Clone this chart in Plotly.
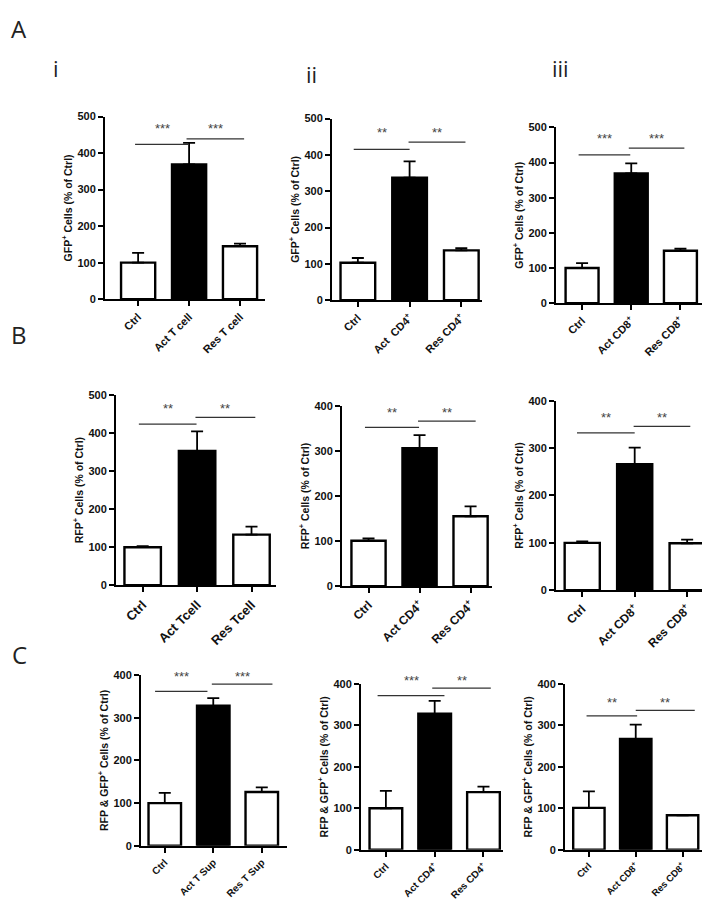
import plotly.graph_objects as go

# ---------------- data ----------------
labels_Ai = ["Ctrl", "Act T cell", "Res T cell"]
labels_Aii = ["Ctrl", "Act  CD4<sup>+</sup>", "Res CD4<sup>+</sup>"]
labels_Aiii = ["Ctrl", "Act CD8<sup>+</sup>", "Res CD8<sup>+</sup>"]
labels_Bi = ["Ctrl", "Act Tcell", "Res Tcell"]
labels_Bii = ["Ctrl", "Act CD4<sup>+</sup>", "Res CD4<sup>+</sup>"]
labels_Biii = ["Ctrl", "Act CD8<sup>+</sup>", "Res CD8<sup>+</sup>"]
labels_Ci = ["Ctrl", "Act T Sup", "Res T Sup"]
labels_Cii = ["Ctrl", "Act CD4<sup>+</sup>", "Res CD4<sup>+</sup>"]
labels_Ciii = ["Ctrl", "Act CD8<sup>+</sup>", "Res CD8<sup>+</sup>"]

mean_Ai = [100, 369, 145]
err_Ai = [27, 59, 7]
mean_Aii = [103, 337, 137]
err_Aii = [13, 45, 6]
mean_Aiii = [100, 369, 149]
err_Aiii = [14, 29, 6]
mean_Bi = [100, 353, 133]
err_Bi = [3, 51, 21]
mean_Bii = [101, 306, 155]
err_Bii = [5, 29, 22]
mean_Biii = [100, 266, 99]
err_Biii = [3, 35, 8]
mean_Ci = [100, 328, 126]
err_Ci = [24, 18, 11]
mean_Cii = [100, 328, 139]
err_Cii = [42, 31, 13]
mean_Ciii = [101, 267, 83]
err_Ciii = [40, 35, 0]

# significance: [left bracket level, right bracket level, star level]
sig_Ai = [424, 439, 467]
sig_Aii = [415, 435, 461]
sig_Aiii = [422, 441, 469]
sig_Bi = [423, 441, 463]
sig_Bii = [352, 366, 384]
sig_Biii = [332, 346, 364]
sig_Ci = [362, 379, 397]
sig_Cii = [372, 390, 408]
sig_Ciii = [323, 336, 355]
stars_Ai = ["***", "***"]
stars_Aii = ["**", "**"]
stars_Aiii = ["***", "***"]
stars_Bi = ["**", "**"]
stars_Bii = ["**", "**"]
stars_Biii = ["**", "**"]
stars_Ci = ["***", "***"]
stars_Cii = ["***", "**"]
stars_Ciii = ["**", "**"]

ytitle_A = "GFP<sup>+</sup> Cells (% of Ctrl)"
ytitle_B = "RFP<sup>+</sup> Cells (% of Ctrl)"
ytitle_C = "RFP & GFP<sup>+</sup> Cells (% of Ctrl)"
ymax_A = [500, 500, 500]
ymax_B = [500, 400, 400]
ymax_C = [400, 400, 400]

# ---------------- layout geometry (pixels) ----------------
W, H = 710, 900
panels = [
    # labels, mean, err, sig, stars, ytitle, ymax, px box (x0,x1,ytop,ybot), xrange, bracket spans, xtick size
    (labels_Ai, mean_Ai, err_Ai, sig_Ai, stars_Ai, ytitle_A, ymax_A[0], (97, 257, 104, 289), (-0.65, 2.49),
     [(-0.06, 1.0), (0.95, 2.08)], 11),
    (labels_Aii, mean_Aii, err_Aii, sig_Aii, stars_Aii, ytitle_A, ymax_A[1], (324, 474, 106, 290), (-0.5, 2.4),
     [(-0.08, 1.0), (0.98, 2.08)], 11),
    (labels_Aiii, mean_Aiii, err_Aiii, sig_Aiii, stars_Aiii, ytitle_A, ymax_A[2], (548, 698, 115, 293), (-0.53, 2.52),
     [(-0.07, 0.98), (0.95, 2.08)], 11),
    (labels_Bi, mean_Bi, err_Bi, sig_Bi, stars_Bi, ytitle_B, ymax_B[0], (108, 268, 386, 579), (-0.49, 2.45),
     [(-0.07, 0.99), (0.97, 2.07)], 13),
    (labels_Bii, mean_Bii, err_Bii, sig_Bii, stars_Bii, ytitle_B, ymax_B[1], (334, 484, 397, 580), (-0.52, 2.42),
     [(-0.07, 0.99), (0.97, 2.1)], 12),
    (labels_Biii, mean_Biii, err_Biii, sig_Biii, stars_Biii, ytitle_B, ymax_B[2], (548, 708, 392, 584), (-0.5, 2.55),
     [(-0.1, 1.0), (0.98, 2.06)], 12),
    (labels_Ci, mean_Ci, err_Ci, sig_Ci, stars_Ci, ytitle_C, ymax_C[0], (133, 279, 670, 843), (-0.49, 2.52),
     [(-0.2, 0.88), (0.97, 2.22)], 10),
    (labels_Cii, mean_Cii, err_Cii, sig_Cii, stars_Cii, ytitle_C, ymax_C[1], (353, 495, 679, 847), (-0.51, 2.4),
     [(-0.17, 1.2), (0.95, 2.15)], 10),
    (labels_Ciii, mean_Ciii, err_Ciii, sig_Ciii, stars_Ciii, ytitle_C, ymax_C[2], (557, 698, 679, 847), (-0.51, 2.5),
     [(-0.05, 1.03), (1.0, 2.26)], 9.5),
]

FONT = "Liberation Sans, Arial, sans-serif"
fig = go.Figure()
shapes = []
annotations = []
layout = {}

for i, (labels, mean, err, sig, stars, ytitle, ymax, box, xr, spans, xts) in enumerate(panels):
    n = "" if i == 0 else str(i + 1)
    xa, ya = "x" + n, "y" + n
    x0, x1, yt, yb = box
    fig.add_trace(go.Bar(
        x=[0, 1, 2], y=mean, xaxis=xa, yaxis=ya, width=0.67,
        marker=dict(color=["white", "black", "white"], line=dict(color="black", width=2.4)),
        error_y=dict(type="data", symmetric=False, array=err, arrayminus=[0, 0, 0],
                     color="black", thickness=1.8, width=6),
        showlegend=False, hoverinfo="skip",
    ))
    layout["xaxis" + n] = dict(
        domain=[x0 / W, x1 / W], anchor=ya, range=list(xr),
        tickmode="array", tickvals=[0, 1, 2], ticktext=labels, tickangle=-45,
        tickfont=dict(family=FONT, size=xts, color="#111", weight="bold"),
        showline=True, linecolor="black", linewidth=2, ticks="outside", ticklen=5, tickwidth=2,
        tickcolor="black", showgrid=False, zeroline=False, fixedrange=True,
    )
    layout["yaxis" + n] = dict(
        domain=[1 - yb / H, 1 - yt / H], anchor=xa, range=[0, ymax],
        tickmode="linear", tick0=0, dtick=100,
        tickfont=dict(family=FONT, size=11, color="#111", weight="bold"),
        title=dict(text=ytitle, font=dict(family=FONT, size=10.5, color="#111", weight="bold"), standoff=3),
        showline=True, linecolor="black", linewidth=2, ticks="outside", ticklen=5, tickwidth=2,
        tickcolor="black", showgrid=False, zeroline=False, fixedrange=True,
    )
    for k, (sa, sb) in enumerate(spans):
        shapes.append(dict(type="line", xref=xa, yref=ya, x0=sa, x1=sb, y0=sig[k], y1=sig[k],
                           line=dict(color="#333", width=1.2)))
        annotations.append(dict(xref=xa, yref=ya + " domain", x=(sa + sb) / 2, y=sig[2] / ymax,
                                text=stars[k], showarrow=False,
                                font=dict(family=FONT, size=13, color="#444"),
                                xanchor="center", yanchor="middle"))

# panel letters
for txt, px, py, sz in [("A", 11, 15, 24), ("B", 11, 325, 24), ("C", 11, 649, 24),
                        ("i", 48, 55, 22), ("ii", 303, 61, 22), ("iii", 552, 55, 22)]:
    annotations.append(dict(xref="paper", yref="paper", x=px / W, y=1 - py / H, text=txt,
                            showarrow=False, xanchor="center", yanchor="middle",
                            font=dict(family="Open Sans, Liberation Sans, sans-serif", size=sz, color="#222")))

fig.update_layout(
    width=W, height=H, margin=dict(l=0, r=0, t=0, b=0),
    paper_bgcolor="white", plot_bgcolor="white",
    shapes=shapes, annotations=annotations, bargap=0.3,
    **layout,
)
fig.write_html("out.html")
